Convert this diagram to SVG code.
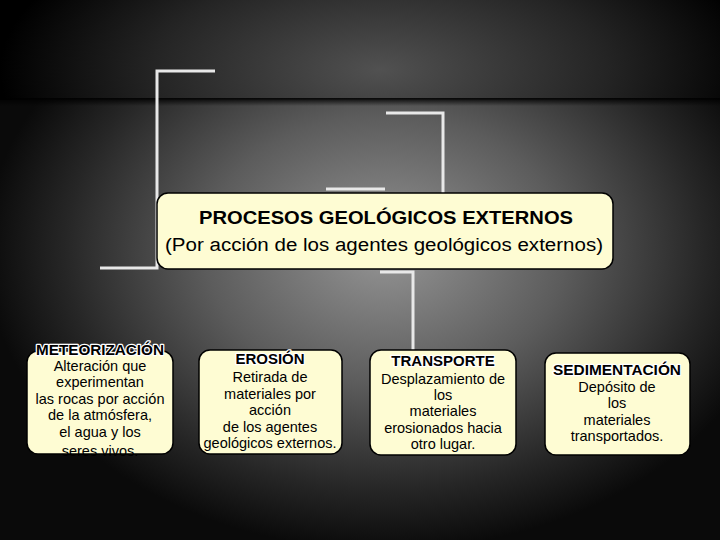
<svg xmlns="http://www.w3.org/2000/svg" width="720" height="540" viewBox="0 0 720 540">
<defs>
<radialGradient id="bgTop" cx="380" cy="70" r="380" gradientUnits="userSpaceOnUse" gradientTransform="translate(380 70) scale(1 0.45) translate(-380 -70)">
<stop offset="0" stop-color="#515151"/>
<stop offset="0.6" stop-color="#242424"/>
<stop offset="1" stop-color="#000"/>
</radialGradient>
<radialGradient id="bgBot" cx="385" cy="250" r="400" gradientUnits="userSpaceOnUse" gradientTransform="translate(385 250) scale(1 0.75) translate(-385 -250)">
<stop offset="0" stop-color="#959595"/>
<stop offset="0.45" stop-color="#5c5c5c"/>
<stop offset="0.8" stop-color="#262626"/>
<stop offset="1" stop-color="#0a0a0a"/>
</radialGradient>
<linearGradient id="sep" x1="0" y1="0" x2="0" y2="1">
<stop offset="0" stop-color="#000" stop-opacity="0.9"/>
<stop offset="1" stop-color="#000" stop-opacity="0"/>
</linearGradient>
</defs>
<style>
.box{fill:#fefcd3;stroke:#000;stroke-width:1.5}
.con{fill:none;stroke:#e8e8e8;stroke-width:3}
.t{font-family:"Liberation Sans","DejaVu Sans",sans-serif;fill:#000;text-anchor:middle}
.h{font-weight:bold;font-size:15px;stroke:#fff;stroke-width:2.5;paint-order:stroke;stroke-linejoin:round}
.b{font-size:14.5px}
.mt{font-weight:bold;font-size:18px}
.ms{font-size:18px}
</style>
<rect x="0" y="0" width="720" height="540" fill="url(#bgBot)"/>
<rect x="0" y="0" width="720" height="100" fill="url(#bgTop)"/>
<rect x="0" y="98" width="720" height="8" fill="url(#sep)"/>
<g id="connectors">
<polyline class="con" points="215,71 157,71 157,268 100,268"/>
<polyline class="con" points="386,113 443,113 443,194"/>
<line class="con" x1="326" y1="189" x2="385" y2="189"/>
<polyline class="con" points="380,272 413,272 413,350"/>
</g>
<g id="main">
<rect class="box" x="157" y="193" width="456" height="76" rx="11"/>
<text class="t mt" x="386" y="224" textLength="374" lengthAdjust="spacingAndGlyphs">PROCESOS GEOLÓGICOS EXTERNOS</text>
<text class="t ms" x="384" y="251" textLength="438" lengthAdjust="spacingAndGlyphs">(Por acción de los agentes geológicos externos)</text>
</g>
<g id="meteorizacion">
<rect class="box" x="27" y="351" width="146" height="103" rx="11"/>
<text class="t h" x="100" y="355" textLength="128" lengthAdjust="spacingAndGlyphs">METEORIZACIÓN</text>
<text class="t b" x="100" y="371">Alteración que</text>
<text class="t b" x="100" y="387">experimentan</text>
<text class="t b" x="100" y="404">las rocas por acción</text>
<text class="t b" x="100" y="420">de la atmósfera,</text>
<text class="t b" x="100" y="437">el agua y los</text>
<text class="t b" x="100" y="456">seres vivos.</text>
</g>
<g id="erosion">
<rect class="box" x="199" y="350" width="143" height="104" rx="11"/>
<text class="t h" x="270" y="364">EROSIÓN</text>
<text class="t b" x="270" y="382">Retirada de</text>
<text class="t b" x="270" y="399">materiales por</text>
<text class="t b" x="270" y="415">acción</text>
<text class="t b" x="270" y="432">de los agentes</text>
<text class="t b" x="270" y="448">geológicos externos.</text>
</g>
<g id="transporte">
<rect class="box" x="370" y="350" width="146" height="105" rx="11"/>
<text class="t h" x="443" y="366">TRANSPORTE</text>
<text class="t b" x="443" y="384">Desplazamiento de</text>
<text class="t b" x="443" y="400">los</text>
<text class="t b" x="443" y="416">materiales</text>
<text class="t b" x="443" y="433">erosionados hacia</text>
<text class="t b" x="443" y="449">otro lugar.</text>
</g>
<g id="sedimentacion">
<rect class="box" x="545" y="353" width="145" height="102" rx="11"/>
<text class="t h" x="617" y="375" textLength="128" lengthAdjust="spacingAndGlyphs">SEDIMENTACIÓN</text>
<text class="t b" x="617" y="392">Depósito de</text>
<text class="t b" x="617" y="408">los</text>
<text class="t b" x="617" y="425">materiales</text>
<text class="t b" x="617" y="441">transportados.</text>
</g>
</svg>
